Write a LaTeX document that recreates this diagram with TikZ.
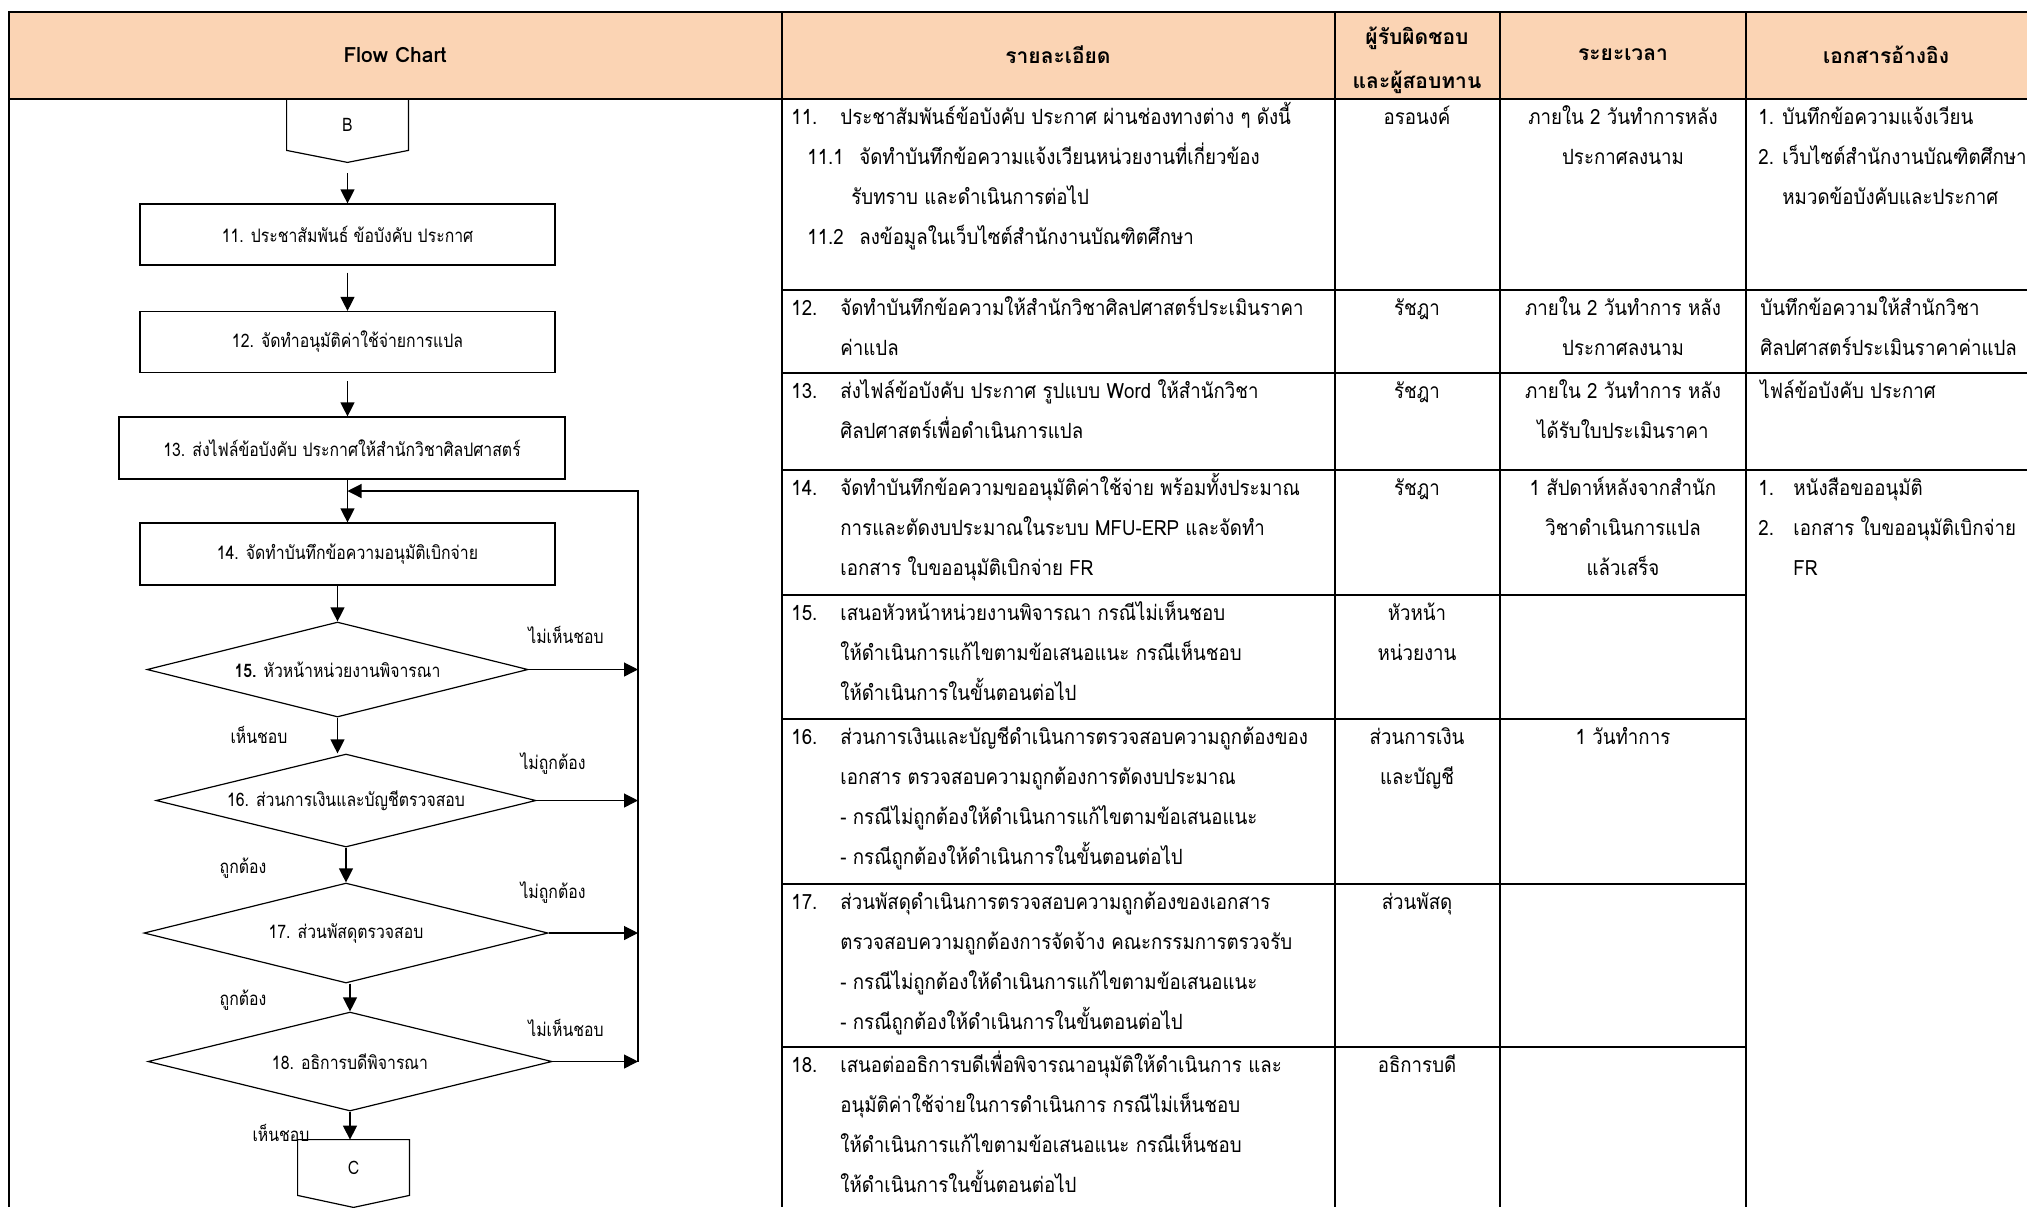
\documentclass[tikz,border=0pt]{standalone}
\usepackage{fontspec}
\newfontfamily\thai[Script=Thai]{Loma}
\newfontfamily\thaibody[Script=Thai,FakeStretch=0.89]{Loma}
\newfontfamily\thaicond[Script=Thai,FakeStretch=0.85]{Loma}
\usetikzlibrary{shapes.geometric,arrows.meta}
\definecolor{headfill}{HTML}{FBD4B4}

\newcommand{\topstrut}{\rule{0pt}{12.5pt}}
\newcommand{\itemno}[1]{\makebox[24.5pt][l]{#1}}
\newcommand{\cont}{\hspace*{24.5pt}}

\tikzstyle{every node}=[inner sep=0pt]
\tikzstyle{process}=[draw, line width=0.6pt, minimum width=207.5pt, minimum height=30.5pt, font=\thaicond\fontsize{9.3}{11}\selectfont]
\tikzstyle{decision}=[draw, diamond, line width=0.6pt, aspect=4, font=\thaicond\fontsize{9.3}{11}\selectfont]
\tikzstyle{offpage}=[font=\thaicond\fontsize{9.3}{11}\selectfont]
\tikzstyle{answer}=[font=\thaicond\fontsize{9.3}{11}\selectfont]
\tikzstyle{flow}=[line width=0.6pt, -{Triangle[length=7pt,width=7pt]}]
\tikzstyle{grid}=[line width=1.3pt]
\tikzstyle{head}=[align=center, font=\thai\bfseries\fontsize{10.5}{22}\selectfont]
\tikzstyle{desc}=[anchor=north west, align=left, font=\thaibody\fontsize{10.5}{20}\selectfont]
\tikzstyle{cell}=[anchor=north, align=center, font=\thaibody\fontsize{10.5}{20}\selectfont]

\begin{document}
\begin{tikzpicture}[x=0.5pt, y=-0.5pt]
    \useasboundingbox (0,0) rectangle (2027,1207);

    % table
    \fill[headfill] (9,12) rectangle (2027,99);
    \draw[grid] (2027,12) -- (9,12) -- (9,1207);
    \draw[grid] (9,99) -- (2027,99);
    \draw[grid] (782,12) -- (782,1207) (1335,12) -- (1335,1207)
        (1500,12) -- (1500,1207) (1746,12) -- (1746,1207);
    \draw[grid] (782,290) -- (2027,290) (782,373) -- (2027,373) (782,470) -- (2027,470)
        (782,595) -- (1746,595) (782,719) -- (1746,719) (782,884) -- (1746,884)
        (782,1047) -- (1746,1047);

    % header
    \node [head] (hflow) at (395,55) {Flow Chart};
    \node [head] (hdesc) at (1058,55) {รายละเอียด};
    \node [head] (hresp) at (1417,60) {ผู้รับผิดชอบ\\และผู้สอบทาน};
    \node [head] (htime) at (1623,55) {ระยะเวลา};
    \node [head] (hdocs) at (1886,55) {เอกสารอ้างอิง};

    % flow chart
    \node [offpage, minimum width=60.5pt, minimum height=25.5pt] (pB) at (347.5,124.5) {B};
    \draw[line width=0.6pt] (pB.north west) -- (pB.south west) -- ([yshift=-6pt]pB.south)
        -- (pB.south east) -- (pB.north east);
    \node [process] (s11) at (347.5,234.5) {11. ประชาสัมพันธ์ ข้อบังคับ ประกาศ};
    \node [process] (s12) at (347.5,342) {12. จัดทำอนุมัติค่าใช้จ่ายการแปล};
    \node [process, minimum width=223pt, minimum height=31pt] (s13) at (342,448) {13. ส่งไฟล์ข้อบังคับ ประกาศให้สำนักวิชาศิลปศาสตร์};
    \node [process, minimum height=31pt] (s14) at (347.5,554) {14. จัดทำบันทึกข้อความอนุมัติเบิกจ่าย};
    \node [decision, minimum width=190.5pt, minimum height=47.5pt] (s15) at (337.5,669.5) {\textbf{15.} หัวหน้าหน่วยงานพิจารณา};
    \node [decision, minimum width=190pt, minimum height=46.5pt] (s16) at (346,800.5) {16. ส่วนการเงินและบัญชีตรวจสอบ};
    \node [decision, minimum width=202pt, minimum height=50pt] (s17) at (346,933) {17. ส่วนพัสดุตรวจสอบ};
    \node [decision, minimum width=202pt, minimum height=49.5pt] (s18) at (350,1061.5) {18. อธิการบดีพิจารณา};
    \node [offpage, minimum width=55.5pt, minimum height=27.5pt] (pC) at (353.5,1167.5) {C};
    \draw[line width=0.6pt] (pC.north west) -- (pC.south west) -- ([yshift=-6pt]pC.south)
        -- (pC.south east) -- (pC.north east) -- cycle;

    \draw[flow, shorten <=11.5pt] (pB.south) -- (s11.north);
    \draw[flow, shorten <=3.5pt] (s11.south) -- (s12.north);
    \draw[flow, shorten <=4pt] (s12.south) -- (s12.south |- s13.north);
    \draw[flow] (s14.north |- s13.south) -- (s14.north);
    \draw[flow] (s15.north |- s14.south) -- (s15.north);
    \draw[flow] (s15.south) -- (s15.south |- s16.north);
    \draw[flow] (s16.south) -- (s16.south |- s17.north);
    \draw[flow] (s18.north |- s17.south) -- (s18.north);
    \draw[flow] (s18.south) -- (s18.south |- pC.north);

    \coordinate (back) at (638,491);
    \draw[flow] (s15.east) -- (s15.east -| back);
    \draw[flow] (s16.east) -- (s16.east -| back);
    \draw[flow] (s17.east) -- (s17.east -| back);
    \draw[flow] (s18.east) -- (s18.east -| back);
    \draw[flow] (s18.east -| back) -- (back) -- (back -| s14.north);

    \node [answer] (no15) at (566,635) {ไม่เห็นชอบ};
    \node [answer] (yes15) at (259,735) {เห็นชอบ};
    \node [answer] (no16) at (553,764) {ไม่ถูกต้อง};
    \node [answer] (yes16) at (243,868) {ถูกต้อง};
    \node [answer] (no17) at (553,893) {ไม่ถูกต้อง};
    \node [answer] (yes17) at (243,1000) {ถูกต้อง};
    \node [answer] (no18) at (566,1028) {ไม่เห็นชอบ};
    \node [answer] (yes18) at (281,1133) {เห็นชอบ};

    % details
    \node [desc] (d11) at (791,99) {\topstrut\itemno{11.}ประชาสัมพันธ์ข้อบังคับ ประกาศ ผ่านช่องทางต่าง ๆ ดังนี้\\\hspace*{8pt}\makebox[26pt][l]{11.1}จัดทำบันทึกข้อความแจ้งเวียนหน่วยงานที่เกี่ยวข้อง\\\hspace*{30pt}รับทราบ และดำเนินการต่อไป\\\hspace*{8pt}\makebox[26pt][l]{11.2}ลงข้อมูลในเว็บไซต์สำนักงานบัณฑิตศึกษา};
    \node [desc] (d12) at (791,290) {\topstrut\itemno{12.}จัดทำบันทึกข้อความให้สำนักวิชาศิลปศาสตร์ประเมินราคา\\\cont ค่าแปล};
    \node [desc] (d13) at (791,373) {\topstrut\itemno{13.}ส่งไฟล์ข้อบังคับ ประกาศ รูปแบบ Word ให้สำนักวิชา\\\cont ศิลปศาสตร์เพื่อดำเนินการแปล};
    \node [desc] (d14) at (791,470) {\topstrut\itemno{14.}จัดทำบันทึกข้อความขออนุมัติค่าใช้จ่าย พร้อมทั้งประมาณ\\\cont การและตัดงบประมาณในระบบ MFU-ERP และจัดทำ\\\cont เอกสาร ใบขออนุมัติเบิกจ่าย FR};
    \node [desc] (d15) at (791,595) {\topstrut\itemno{15.}เสนอหัวหน้าหน่วยงานพิจารณา กรณีไม่เห็นชอบ\\\cont ให้ดำเนินการแก้ไขตามข้อเสนอแนะ กรณีเห็นชอบ\\\cont ให้ดำเนินการในขั้นตอนต่อไป};
    \node [desc] (d16) at (791,719) {\topstrut\itemno{16.}ส่วนการเงินและบัญชีดำเนินการตรวจสอบความถูกต้องของ\\\cont เอกสาร ตรวจสอบความถูกต้องการตัดงบประมาณ\\\cont - กรณีไม่ถูกต้องให้ดำเนินการแก้ไขตามข้อเสนอแนะ\\\cont - กรณีถูกต้องให้ดำเนินการในขั้นตอนต่อไป};
    \node [desc] (d17) at (791,884) {\topstrut\itemno{17.}ส่วนพัสดุดำเนินการตรวจสอบความถูกต้องของเอกสาร\\\cont ตรวจสอบความถูกต้องการจัดจ้าง คณะกรรมการตรวจรับ\\\cont - กรณีไม่ถูกต้องให้ดำเนินการแก้ไขตามข้อเสนอแนะ\\\cont - กรณีถูกต้องให้ดำเนินการในขั้นตอนต่อไป};
    \node [desc] (d18) at (791,1047) {\topstrut\itemno{18.}เสนอต่ออธิการบดีเพื่อพิจารณาอนุมัติให้ดำเนินการ และ\\\cont อนุมัติค่าใช้จ่ายในการดำเนินการ กรณีไม่เห็นชอบ\\\cont ให้ดำเนินการแก้ไขตามข้อเสนอแนะ กรณีเห็นชอบ\\\cont ให้ดำเนินการในขั้นตอนต่อไป};

    % responsible
    \node [cell] (r11) at (1417,99) {\topstrut อรอนงค์};
    \node [cell] (r12) at (1417,290) {\topstrut รัชฎา};
    \node [cell] (r13) at (1417,373) {\topstrut รัชฎา};
    \node [cell] (r14) at (1417,470) {\topstrut รัชฎา};
    \node [cell] (r15) at (1417,595) {\topstrut หัวหน้า\\หน่วยงาน};
    \node [cell] (r16) at (1417,719) {\topstrut ส่วนการเงิน\\และบัญชี};
    \node [cell] (r17) at (1417,884) {\topstrut ส่วนพัสดุ};
    \node [cell] (r18) at (1417,1047) {\topstrut อธิการบดี};

    % time
    \node [cell] (t11) at (1623,99) {\topstrut ภายใน 2 วันทำการหลัง\\ประกาศลงนาม};
    \node [cell] (t12) at (1623,290) {\topstrut ภายใน 2 วันทำการ หลัง\\ประกาศลงนาม};
    \node [cell] (t13) at (1623,373) {\topstrut ภายใน 2 วันทำการ หลัง\\ได้รับใบประเมินราคา};
    \node [cell] (t14) at (1623,470) {\topstrut 1 สัปดาห์หลังจากสำนัก\\วิชาดำเนินการแปล\\แล้วเสร็จ};
    \node [cell] (t16) at (1623,719) {\topstrut 1 วันทำการ};

    % documents
    \node [desc] (f11) at (1758,99) {\topstrut 1. บันทึกข้อความแจ้งเวียน\\2. เว็บไซต์สำนักงานบัณฑิตศึกษา\\\hspace*{12pt}หมวดข้อบังคับและประกาศ};
    \node [desc] (f12) at (1760,290) {\topstrut บันทึกข้อความให้สำนักวิชา\\ศิลปศาสตร์ประเมินราคาค่าแปล};
    \node [desc] (f13) at (1760,373) {\topstrut ไฟล์ข้อบังคับ ประกาศ};
    \node [desc] (f14) at (1758,470) {\topstrut\makebox[17.5pt][l]{1.}หนังสือขออนุมัติ\\\makebox[17.5pt][l]{2.}เอกสาร ใบขออนุมัติเบิกจ่าย\\\hspace*{17.5pt}FR};
\end{tikzpicture}
\end{document}
